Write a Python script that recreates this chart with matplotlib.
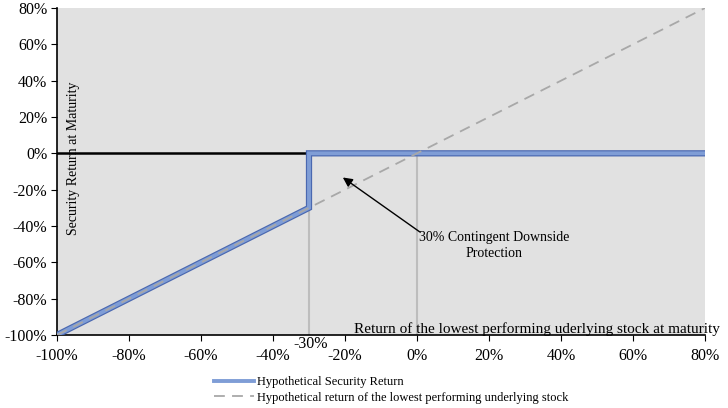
import numpy as np
import matplotlib
matplotlib.use("Agg")
import matplotlib.pyplot as plt

plt.rcParams['font.family'] = ['Liberation Serif', 'DejaVu Serif']

# data (returns in %)
stock_x = [-100, 80]
stock_y = [-100, 80]
security_x = [-100, -30, -30, 80]
security_y = [-100, -30, 0, 0]
barrier = -30
x_ticks = [-100, -80, -60, -40, -20, 0, 20, 40, 60, 80]
y_ticks = [-100, -80, -60, -40, -20, 0, 20, 40, 60, 80]

fig = plt.figure(figsize=(7.28, 4.08), dpi=100)
ax = fig.add_axes([57 / 728, 1 - 335 / 408, 648 / 728, 327 / 408])
ax.set_facecolor('#e1e1e1')

# gray vertical guides
ax.plot([barrier, barrier], [-100, 0], color='#bdbdbd', lw=1.5, zorder=2)
ax.plot([0, 0], [-100, 0], color='#bdbdbd', lw=1.5, zorder=2)

# zero line
ax.axhline(0, color='black', lw=1.8, zorder=3)

# security return (thick blue with darker edge)
ax.plot(security_x, security_y, color='#4a68b0', lw=4.5, zorder=4,
        solid_joinstyle='miter')
ax.plot(security_x, security_y, color='#7f9dd6', lw=2.8, zorder=4,
        solid_joinstyle='miter', label='Hypothetical Security Return')

# underlying stock
ax.plot(stock_x, stock_y, color='#a8a8a8', lw=1.3, ls=(0, (6, 4)), zorder=5,
        label='Hypothetical return of the lowest performing underlying stock')

ax.set_xlim(-100, 80)
ax.set_ylim(-100, 80)
ax.set_xticks(x_ticks)
ax.set_yticks(y_ticks)
ax.set_xticklabels([f'{v}%' for v in x_ticks], fontsize=11.5)
ax.set_yticklabels([f'{v}%' for v in y_ticks], fontsize=11.5)
ax.tick_params(direction='out', length=4, width=0.8, color='black', pad=3)
ax.tick_params(axis='x', pad=5)
for s in ['top', 'right']:
    ax.spines[s].set_visible(False)
for s in ['left', 'bottom']:
    ax.spines[s].set_linewidth(1.2)

ax.text(-29.5, -104.8, '-30%', fontsize=11.5, ha='center', va='center',
        clip_on=False)

ax.text(84, -96.5, 'Return of the lowest performing uderlying stock at maturity',
        fontsize=11, ha='right', va='center', clip_on=False, zorder=6)
ax.text(-95.5, -2.5, 'Security Return at Maturity', fontsize=10, rotation=90,
        ha='center', va='center', zorder=6)

ax.text(21.5, -50.5, '30% Contingent Downside\nProtection', fontsize=10,
        ha='center', va='center', zorder=6, linespacing=1.3)
ax.annotate('', xy=(-20.6, -13.3), xytext=(0.8, -43.3),
            arrowprops=dict(arrowstyle='-|>', color='black', lw=1.0,
                            mutation_scale=14, shrinkA=0, shrinkB=0),
            zorder=6)

fig.legend(loc='upper left', bbox_to_anchor=(209 / 728, 1 - 371 / 408),
           frameon=False, fontsize=9, handlelength=3.2, handletextpad=0.25,
           labelspacing=0.3, borderaxespad=0)

fig.savefig('out.png', dpi=100)
